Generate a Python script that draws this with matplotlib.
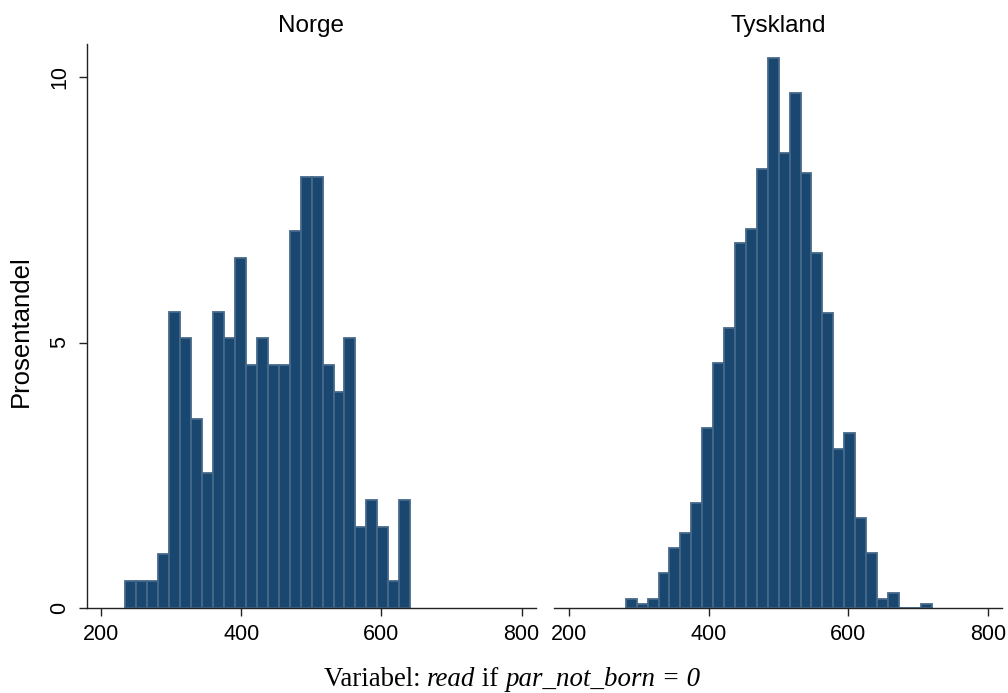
import numpy as np
import matplotlib
matplotlib.use("Agg")
import matplotlib.pyplot as plt

# ---- data ----
panels = ["Norge", "Tyskland"]
bin_start = 234.8
bin_width = 15.62
norge_first_bin = 0
norge_pct = [0.51, 0.51, 0.51, 1.02, 5.58, 5.08, 3.55, 2.54, 5.58, 5.08,
             6.60, 4.57, 5.08, 4.57, 4.57, 7.11, 8.12, 8.12, 4.57, 4.06,
             5.08, 1.52, 2.03, 1.52, 0.51, 2.03]
tysk_first_bin = 3
tysk_pct = [0.16, 0.07, 0.16, 0.65, 1.12, 1.40, 1.97, 3.38, 4.61, 5.27,
            6.87, 7.15, 8.28, 10.36, 8.57, 9.70, 8.19, 6.68, 5.55, 3.00,
            3.29, 1.69, 1.03, 0.16, 0.27, 0.0, 0.0, 0.07]
xticks = [200, 400, 600, 800]
yticks = [0, 5, 10]
ylabel = "Prosentandel"
note_parts = [("Variabel: ", "normal"), ("read", "italic"), (" if ", "normal"),
              ("par_not_born = 0", "italic")]

fill = "#1a476f"
edge = "#46698a"

plt.rcParams["font.family"] = ["Liberation Sans", "DejaVu Sans"]

W, H = 1008, 693
fig = plt.figure(figsize=(W / 100, H / 100), dpi=100)

def px_axes(x0, x1, y0, y1):
    return fig.add_axes([x0 / W, 1 - y1 / H, (x1 - x0) / W, (y1 - y0) / H])

axL = px_axes(86.7, 535.7, 44, 607.7)
axR = px_axes(554.3, 1002.3, 44, 607.7)

data = [(axL, norge_first_bin, norge_pct), (axR, tysk_first_bin, tysk_pct)]
for i, (ax, first, pct) in enumerate(data):
    lefts = bin_start + bin_width * (first + np.arange(len(pct)))
    ax.bar(lefts, pct, width=bin_width, align="edge", color=fill,
           edgecolor=edge, linewidth=1.3)
    ax.set_xlim(179.5, 820)
    ax.set_ylim(0, 10.63)
    ax.set_xticks(xticks)
    ax.set_xticklabels([str(t) for t in xticks])
    ax.tick_params(axis="x", length=6, width=1, pad=6, labelsize=15.5,
                   color="#222222")
    for s in ["top", "right"]:
        ax.spines[s].set_visible(False)
    ax.spines["bottom"].set_linewidth(1.0)
    ax.spines["bottom"].set_color("#222222")
    if i == 0:
        ax.set_yticks(yticks)
        ax.set_yticklabels([str(t) for t in yticks], rotation=90, va="center")
        ax.tick_params(axis="y", length=6, width=1, pad=6, labelsize=15.5,
                       color="#222222")
        ax.spines["left"].set_linewidth(1.0)
        ax.spines["left"].set_color("#222222")
    else:
        ax.spines["left"].set_visible(False)
        ax.set_yticks([])
    cx = (ax.get_position().x0 + ax.get_position().x1) / 2
    fig.text(cx, 1 - 26 / H, panels[i], ha="center", va="center", fontsize=17.5)

fig.text(21 / W, 1 - 331 / H, ylabel, rotation=90, ha="center", va="center",
         fontsize=18.5)

# note line built from pieces (roman + italic), centred as a whole
renderer = fig.canvas.get_renderer()
texts = []
for s, style in note_parts:
    t = fig.text(0, 1 - 680 / H, s, ha="left", va="center", fontsize=19.4,
                 family=["Liberation Serif"], style=style)
    texts.append(t)
widths = [t.get_window_extent(renderer).width for t in texts]
total = sum(widths)
x = 512 - total / 2
for t, w in zip(texts, widths):
    t.set_x(x / W)
    x += w

fig.savefig("out.png", dpi=100, facecolor="white")
